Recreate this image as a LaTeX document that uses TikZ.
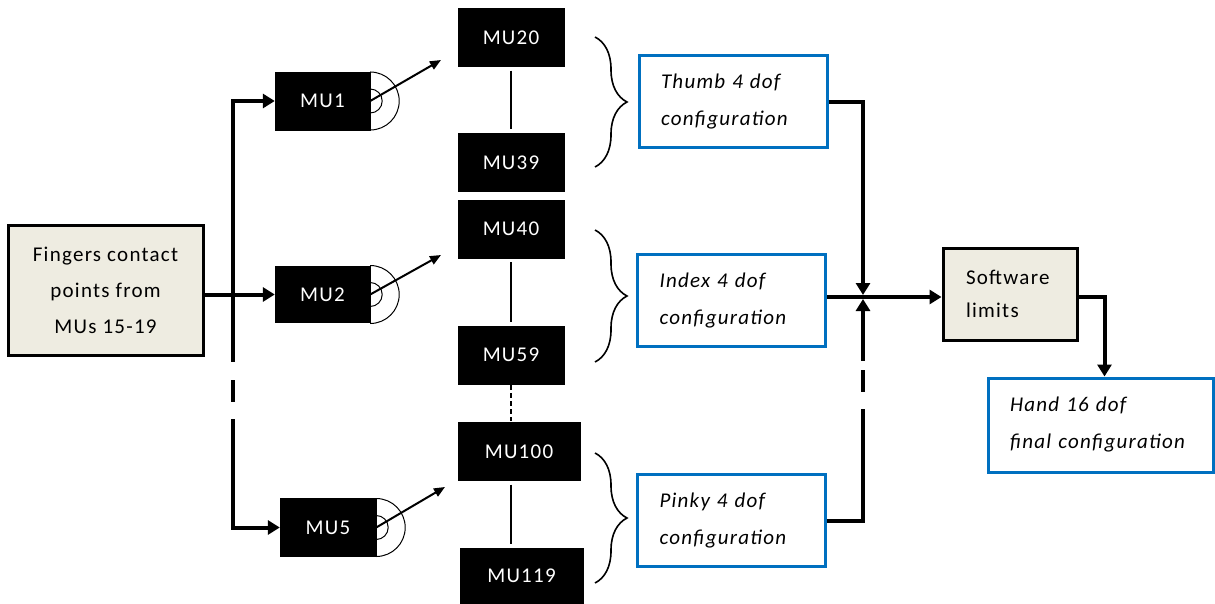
\documentclass[tikz,border=0pt]{standalone}
\usepackage{fontspec}
\setmainfont{Carlito}[LetterSpace=6]
\usepackage{xcolor}
\usetikzlibrary{arrows.meta,decorations.pathreplacing}
\definecolor{frame}{HTML}{0070C0}
\definecolor{paper}{HTML}{EEECE1}
\tikzset{
  mubox/.style={fill=black, draw=black, text=white, minimum width=106pt, minimum height=58pt, inner sep=0pt, font=\fontsize{21}{25}\selectfont},
  inbox/.style={draw=black, fill=paper, line width=3pt, align=center, font=\fontsize{21}{36}\selectfont},
  cfgbox/.style={draw=frame, fill=white, line width=3pt, minimum height=92pt, inner xsep=22pt, text width=144pt, align=left, font=\itshape\fontsize{21}{37}\selectfont},
  flow/.style={-{Triangle[length=12pt,width=14pt]}, line width=4pt},
  bus/.style={{Triangle[length=12pt,width=14pt]}-{Triangle[length=12pt,width=14pt]}, line width=4pt},
  signal/.style={-{Triangle[length=11pt,width=9pt]}, line width=2pt},
  wave/.style={line width=1pt},
  link/.style={line width=1.3pt, shorten <=4pt, shorten >=4pt},
  brace/.style={decorate, decoration={brace, amplitude=32pt}, line width=1.6pt},
}
\begin{document}
\begin{tikzpicture}[x=1pt,y=-1pt]
\useasboundingbox (0,0) rectangle (1215,604);
% inputs and first MUs
\node[inbox, minimum width=195pt, minimum height=130pt] (fing) at (105.5,290) {Fingers contact\\points from\\MUs 15-19};
\node[mubox, minimum width=95pt] (mu1) at (322.5,101) {MU1};
\node[mubox, minimum width=95pt, minimum height=56pt] (mu2) at (322.5,294.5) {MU2};
\node[mubox, minimum width=96pt] (mu5) at (328,527.5) {MU5};
% MU columns
\node[mubox] (mu20) at (511,37.5) {MU20};
\node[mubox] (mu39) at (511,162.5) {MU39};
\node[mubox] (mu40) at (511,229) {MU40};
\node[mubox] (mu59) at (511,355) {MU59};
\node[mubox, minimum width=122pt] (mu100) at (519,451.5) {MU100};
\node[mubox, minimum width=123pt, minimum height=56pt] (mu119) at (521.5,576) {MU119};
% configurations
\node[cfgbox] (thumb) at (733,102) {Thumb 4 dof\\configuration};
\node[cfgbox] (index) at (731.5,300.5) {Index 4 dof\\configuration};
\node[cfgbox] (pinky) at (731.5,520.5) {Pinky 4 dof\\configuration};
\node[inbox, minimum width=134pt, minimum height=92pt, inner xsep=20pt, text width=88pt, align=left, font=\fontsize{21}{33}\selectfont] (soft) at (1010,294) {Software\\limits};
\node[cfgbox, text width=181pt, minimum height=94pt] (hand) at (1100.5,425) {Hand 16 dof\\final~configuration};

\coordinate (bt) at (233,101);
\coordinate (bb) at (233,527.5);
\coordinate (jn) at (863,297);
\coordinate (s1) at (441,60);
\coordinate (s2) at (441,255);
\coordinate (s5) at (445,487);

\draw[flow] (fing.east |- mu2) -- (mu2.west);
\draw[bus, dash pattern=on 292pt off 18pt on 22pt off 17pt on 500pt] (mu1.west) -- (bt) -- (bb) -- (mu5.west);

\foreach \m/\s in {mu1/s1, mu2/s2, mu5/s5} {
  \draw[wave] ([yshift=12pt]\m.east) arc[start angle=90, end angle=-90, radius=12pt];
  \draw[wave] ([yshift=29pt]\m.east) arc[start angle=90, end angle=-90, radius=29pt];
  \draw[signal] (\m.east) -- (\s);
}

\draw[link] (mu20) -- (mu39);
\draw[link] (mu40) -- (mu59);
\draw[link, dash pattern=on 5pt off 3pt, shorten <=1pt, shorten >=1pt] (mu59.south) -- (mu59.south |- mu100.north);
\draw[link] (mu100.south -| mu20) -- (mu119.north -| mu20);

\draw[brace] (595,37) -- (595,167);
\draw[brace] (595,230) -- (595,362);
\draw[brace] (595,453) -- (595,583);

\draw[flow] (thumb.east) -| ([yshift=2pt]jn);
\draw[flow, dash pattern=on 148pt off 17pt on 22pt off 9pt on 300pt] (pinky.east) -| ([yshift=-2pt]jn);
\draw[flow] (index.east |- jn) -- (soft.west |- jn);
\draw[flow] (soft.east |- jn) -| ([xshift=4pt]hand.north);
\end{tikzpicture}
\end{document}
